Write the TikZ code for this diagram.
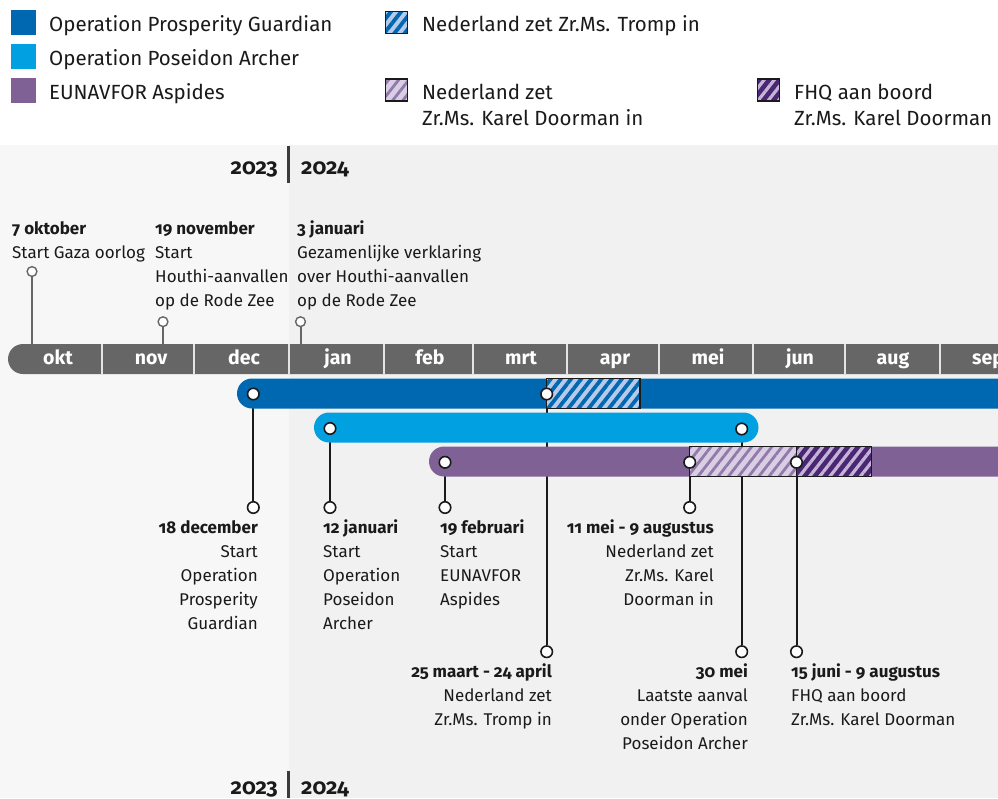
\documentclass[tikz,border=0pt]{standalone}
\usepackage{fontspec}
\setmainfont{Fira Sans}[Numbers=OldStyle]
\usetikzlibrary{patterns.meta}
\definecolor{opg}{HTML}{0067B1}
\definecolor{opa}{HTML}{00A0E1}
\definecolor{asp}{HTML}{7F6195}
\definecolor{mbar}{HTML}{666666}
\definecolor{msep}{HTML}{E4E4E4}
\definecolor{bgL}{HTML}{F7F7F7}
\definecolor{bgR}{HTML}{F1F1F1}
\definecolor{tromL}{HTML}{B8CAEA}
\definecolor{doorL}{HTML}{D8CFE4}
\definecolor{doorD}{HTML}{9379AA}
\definecolor{fhqD}{HTML}{4A2673}
\definecolor{fhqL}{HTML}{C4B5D8}
\definecolor{ink}{HTML}{1A1A1A}
\pgfdeclarelayer{back}
\pgfdeclarelayer{stems}
\pgfsetlayers{back,stems,main}
\begin{document}
\begin{tikzpicture}[x=1pt,y=-1pt,
  lbl/.style={inner sep=0pt, font=\fontsize{17}{24}\selectfont, text=ink},
  lblb/.style={inner sep=0pt, font=\fontsize{17}{24}\selectfont\bfseries, text=ink},
  leg/.style={inner sep=0pt, font=\fontsize{20.5}{26}\selectfont, text=ink, anchor=base west},
  yr/.style={inner sep=0pt, font=\fontsize{22}{26}\selectfont\bfseries, text=ink},
  mon/.style={inner sep=0pt, font=\fontsize{19.5}{22}\selectfont\bfseries, text=white, anchor=base},
  legsq/.style={inner sep=0pt, minimum size=25pt, draw=none},
  leghat/.style={inner sep=0pt, minimum size=22pt, draw=ink, line width=1.2pt},
  tdot/.style={circle, draw=mbar, fill=white, line width=1.4pt, minimum size=9.8pt, inner sep=0pt},
  bdot/.style={circle, draw=ink, fill=white, line width=1.6pt, minimum size=11.5pt, inner sep=0pt},
  tstem/.style={draw=mbar, line width=2pt},
  bstem/.style={draw=ink, line width=2pt},
  yrline/.style={draw=ink!85, line width=3pt},
  hatT/.style={preaction={fill=tromL}, pattern={Lines[angle=52,distance=8pt,line width=3.8pt]}, pattern color=opg},
  hatD/.style={preaction={fill=doorL}, pattern={Lines[angle=52,distance=8pt,line width=2.8pt]}, pattern color=doorD},
  hatF/.style={preaction={fill=fhqD}, pattern={Lines[angle=52,distance=8pt,line width=3.2pt]}, pattern color=fhqL},
]
\useasboundingbox (0,0) rectangle (998,798);
\clip (0,0) rectangle (998,798);

% backgrounds
\begin{pgfonlayer}{back}
\fill[white] (0,0) rectangle (998,145);
\fill[bgL] (0,145) rectangle (288.7,798);
\fill[bgR] (288.7,145) rectangle (998,798);
\end{pgfonlayer}

% legend
\node[legsq, fill=opg] (lg1) at (23.5,22.5) {};
\node[legsq, fill=opa] (lg2) at (23.5,56.5) {};
\node[legsq, fill=asp] (lg3) at (23.5,90) {};
\node[leg] (lt1) at (49,31) {Operation Prosperity Guardian};
\node[leg] (lt2) at (49,65) {Operation Poseidon Archer};
\node[leg] (lt3) at (49,99) {EUNAVFOR Aspides};
\node[leghat, hatT] (lg4) at (396.5,22.5) {};
\node[leg] (lt4) at (422,31) {Nederland zet Zr.Ms. Tromp in};
\node[leghat, hatD] (lg5) at (396.5,90) {};
\node[leg] (lt5a) at (422,99) {Nederland zet};
\node[leg] (lt5b) at (422,125) {Zr.Ms. Karel Doorman in};
\node[leghat, hatF] (lg6) at (768.5,90) {};
\node[leg] (lt6a) at (794,99) {FHQ aan boord};
\node[leg] (lt6b) at (794,125) {Zr.Ms. Karel Doorman};

% years
\node[yr, anchor=base east] (y23) at (278,174) {2023};
\node[yr, anchor=base west] (y24) at (301,174) {2024};
\draw[yrline] (288.7,146) -- (288.7,183);
\node[yr, anchor=base east] (y23b) at (278,794) {2023};
\node[yr, anchor=base west] (y24b) at (301,794) {2024};
\draw[yrline] (288.7,771) -- (288.7,798);

% month bar
\fill[mbar, rounded corners=15pt] (8,344) rectangle (1040,374);
\foreach \x in {102,194,288.7,384,473,567,659,753,845,940}
  \draw[msep, line width=2.2pt] (\x,344) -- (\x,374);
\foreach \m/\x [count=\i] in {okt/58,nov/151,dec/244,jan/338,feb/430,mrt/521,apr/615,mei/708,jun/800,aug/893,sep/988}
  \node[mon] (m\i) at (\x,364.5) {\m};

% operation bars
\fill[opg, rounded corners=15pt] (237,378.5) rectangle (1040,408.5);
\fill[opa, rounded corners=15pt] (314,412.5) rectangle (758.5,442.5);
\fill[asp, rounded corners=15pt] (429,446.5) rectangle (1040,476.5);
\path[hatT, draw=ink, line width=1.4pt] (546.7,378.5) rectangle (640,408.5);
\path[hatD, draw=ink, line width=1.4pt] (689.5,446.5) rectangle (796.5,476.5);
\path[hatF, draw=ink, line width=1.4pt] (796.5,446.5) rectangle (871.7,476.5);

% top events
\node[tdot] (t1) at (32,271.5) {};
\node[tdot] (t2) at (163,321.7) {};
\node[tdot] (t3) at (300.5,321.7) {};
\coordinate (t1b) at (32,345);
\coordinate (t2b) at (163,345);
\coordinate (t3b) at (300.5,345);
\begin{pgfonlayer}{stems}
\draw[tstem] (t1) -- (t1b);
\draw[tstem] (t2) -- (t2b);
\draw[tstem] (t3) -- (t3b);
\end{pgfonlayer}
\node[lblb, anchor=base west] (tx1) at (12,234) {7 oktober};
\node[lbl, anchor=base west] (tx1-1) at (12,258) {Start Gaza oorlog};
\node[lblb, anchor=base west] (tx2) at (155,234) {19 november};
\foreach \t [count=\i] in {Start,Houthi-aanvallen,op de Rode Zee}
  \node[lbl, anchor=base west] (tx2-\i) at (155,{234+24*\i}) {\t};
\node[lblb, anchor=base west] (tx3) at (297,234) {3 januari};
\foreach \t [count=\i] in {Gezamenlijke verklaring,over Houthi-aanvallen,op de Rode Zee}
  \node[lbl, anchor=base west] (tx3-\i) at (297,{234+24*\i}) {\t};

% bar events
\node[bdot] (e1) at (253.3,394) {};
\node[bdot] (e1e) at (253.3,507.5) {};
\node[bdot] (e2) at (330,428.5) {};
\node[bdot] (e2e) at (330,507.5) {};
\node[bdot] (e3) at (445,462.3) {};
\node[bdot] (e3e) at (445,507.5) {};
\node[bdot] (e4) at (546.7,394) {};
\node[bdot] (e4e) at (546.7,651.7) {};
\node[bdot] (e5) at (689.7,462.3) {};
\node[bdot] (e5e) at (689.7,507.5) {};
\node[bdot] (e6) at (741.7,429) {};
\node[bdot] (e6e) at (741.7,651.7) {};
\node[bdot] (e7) at (796.5,462.3) {};
\node[bdot] (e7e) at (796.5,651.7) {};
\begin{pgfonlayer}{stems}
\foreach \n in {1,...,7} \draw[bstem] (e\n) -- (e\n e);
\end{pgfonlayer}

\node[lblb, anchor=base east] (ex1) at (258,533) {18 december};
\foreach \t [count=\i] in {Start,Operation,Prosperity,Guardian}
  \node[lbl, anchor=base east] (ex1-\i) at (258,{533+24*\i}) {\t};
\node[lblb, anchor=base west] (ex2) at (323,533) {12 januari};
\foreach \t [count=\i] in {Start,Operation,Poseidon,Archer}
  \node[lbl, anchor=base west] (ex2-\i) at (323,{533+24*\i}) {\t};
\node[lblb, anchor=base west] (ex3) at (440,533) {19 februari};
\foreach \t [count=\i] in {Start,EUNAVFOR,Aspides}
  \node[lbl, anchor=base west] (ex3-\i) at (440,{533+24*\i}) {\t};
\node[lblb, anchor=base east] (ex5) at (714,533) {11 mei - 9 augustus};
\foreach \t [count=\i] in {Nederland zet,Zr.Ms. Karel,Doorman in}
  \node[lbl, anchor=base east] (ex5-\i) at (714,{533+24*\i}) {\t};
\node[lblb, anchor=base east] (ex4) at (552,677) {25 maart - 24 april};
\foreach \t [count=\i] in {Nederland zet,Zr.Ms. Tromp in}
  \node[lbl, anchor=base east] (ex4-\i) at (552,{677+24*\i}) {\t};
\node[lblb, anchor=base east] (ex6) at (748,677) {30 mei};
\foreach \t [count=\i] in {Laatste aanval,onder Operation,Poseidon Archer}
  \node[lbl, anchor=base east] (ex6-\i) at (748,{677+24*\i}) {\t};
\node[lblb, anchor=base west] (ex7) at (791,677) {15 juni - 9 augustus};
\foreach \t [count=\i] in {FHQ aan boord,Zr.Ms. Karel Doorman}
  \node[lbl, anchor=base west] (ex7-\i) at (791,{677+24*\i}) {\t};
\end{tikzpicture}
\end{document}
